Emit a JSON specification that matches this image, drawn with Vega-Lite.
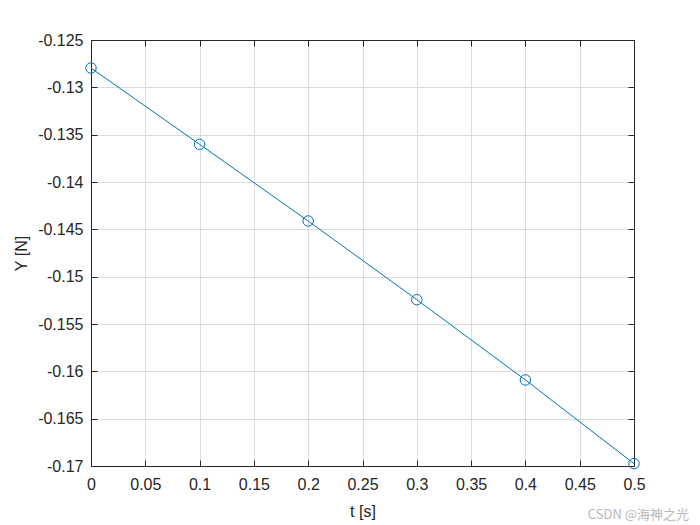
{
  "$schema": "https://vega.github.io/schema/vega-lite/v6.json",
  "width": 543,
  "height": 426,
  "autosize": "none",
  "padding": {"left": 91, "top": 40, "right": 66, "bottom": 59},
  "background": "white",
  "config": {
    "view": {"stroke": "#262626", "strokeWidth": 1},
    "font": "Liberation Sans",
    "axis": {
      "labelFont": "Liberation Sans",
      "titleFont": "Liberation Sans",
      "labelFontSize": 16,
      "titleFontSize": 16,
      "titleFontWeight": "normal",
      "labelColor": "#262626",
      "titleColor": "#262626",
      "domainColor": "#262626",
      "tickColor": "#262626",
      "tickSize": -6,
      "gridColor": "#dcdcdc",
      "gridWidth": 1,
      "labelExpr": "replace(datum.label, '\u2212', '-')"
    }
  },
  "title": {
    "text": "CSDN @海神之光",
    "orient": "bottom",
    "anchor": "end",
    "font": "Noto Sans CJK SC",
    "fontSize": 13,
    "fontWeight": "normal",
    "color": "#b8b8b8",
    "offset": 0,
    "dx": 44,
    "dy": -10
  },
  "data": {
    "values": [
      {"t": 0.0, "Y": -0.12796},
      {"t": 0.1, "Y": -0.13602},
      {"t": 0.2, "Y": -0.14412},
      {"t": 0.3, "Y": -0.15243},
      {"t": 0.4, "Y": -0.16091},
      {"t": 0.5, "Y": -0.16975}
    ]
  },
  "layer": [
    {
      "mark": {"type": "line", "color": "#0072BD", "strokeWidth": 1, "clip": false},
      "encoding": {
        "x": {
          "field": "t",
          "type": "quantitative",
          "scale": {"domain": [0, 0.5], "nice": false, "zero": false},
          "axis": {
            "orient": "bottom",
            "title": "t [s]",
            "values": [0, 0.05, 0.1, 0.15, 0.2, 0.25, 0.3, 0.35, 0.4, 0.45, 0.5],
            "format": "~g",
            "labelPadding": 16,
            "titlePadding": 11,
            "labelFlush": false
          }
        },
        "y": {
          "field": "Y",
          "type": "quantitative",
          "scale": {"domain": [-0.17, -0.125], "nice": false, "zero": false},
          "axis": {
            "orient": "left",
            "title": "Y [N]",
            "values": [-0.17, -0.165, -0.16, -0.155, -0.15, -0.145, -0.14, -0.135, -0.13, -0.125],
            "format": "~g",
            "labelPadding": 14,
            "titlePadding": 8,
            "labelFlush": false
          }
        }
      }
    },
    {
      "mark": {"type": "point", "shape": "circle", "color": "#0072BD", "size": 110, "strokeWidth": 1, "filled": false, "opacity": 1, "clip": false},
      "encoding": {
        "x": {
          "field": "t",
          "type": "quantitative",
          "axis": {"orient": "top", "labels": false, "title": null, "grid": false,
                   "values": [0, 0.05, 0.1, 0.15, 0.2, 0.25, 0.3, 0.35, 0.4, 0.45, 0.5]}
        },
        "y": {
          "field": "Y",
          "type": "quantitative",
          "axis": {"orient": "right", "labels": false, "title": null, "grid": false,
                   "values": [-0.17, -0.165, -0.16, -0.155, -0.15, -0.145, -0.14, -0.135, -0.13, -0.125]}
        }
      }
    }
  ],
  "resolve": {"axis": {"x": "independent", "y": "independent"}}
}
